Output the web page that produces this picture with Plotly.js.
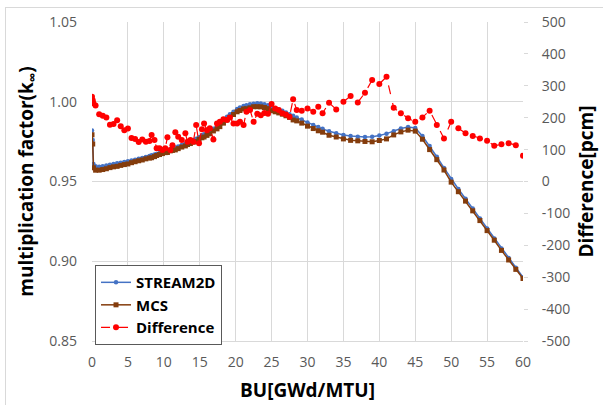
<!DOCTYPE html>
<html>
<head>
<meta charset="utf-8">
<script src="https://cdn.plot.ly/plotly-3.0.1.min.js"></script>
<style>
html,body{margin:0;padding:0;background:#fff;}
#wrap{position:relative;width:603px;height:405px;overflow:hidden;}
#chart{width:603px;height:405px;}
#frame{position:absolute;left:5px;top:7px;width:620px;height:420px;border-left:1px solid #d9d9d9;border-top:1px solid #d9d9d9;pointer-events:none;}
</style>
</head>
<body>
<div id="wrap"><div id="chart"></div><div id="frame"></div></div>
<script>
// Burnup [GWd/MTU]
const burnup = [
  0, 0.1, 0.2, 0.5, 1, 1.5, 2, 2.5, 3, 3.5,
  4, 4.5, 5, 5.5, 6, 6.5, 7, 7.5, 8, 8.3,
  8.7, 9, 9.4, 9.8, 10.2, 10.5, 10.9, 11.2, 11.6, 12,
  12.5, 13, 13.3, 13.7, 14.1, 14.5, 14.9, 15.3, 15.6, 16,
  16.4, 16.9, 17.4, 17.8, 18.3, 18.8, 19.2, 19.7, 20.2, 20.6,
  21.1, 21.5, 22, 22.5, 23, 23.5, 24, 24.5, 25, 25.5,
  26, 26.5, 27, 27.5, 28, 28.5, 29.2, 30, 30.8, 31.5,
  32.1, 33, 34, 35, 36, 37, 38, 39, 40, 41,
  42, 43, 44, 45, 46, 47, 48, 49, 50, 51,
  52, 53, 54, 55, 56, 57, 58, 59, 60
];
// STREAM2D k-inf
const stream2d = [
  0.9820, 0.9760, 0.9610, 0.9595, 0.9592, 0.9596, 0.9600, 0.9605, 0.9610, 0.9614,
  0.9618, 0.9622, 0.9627, 0.9632, 0.9637, 0.9642, 0.9648, 0.9654, 0.9660, 0.9664,
  0.9669, 0.9673, 0.9679, 0.9685, 0.9691, 0.9696, 0.9702, 0.9706, 0.9713, 0.9720,
  0.9729, 0.9738, 0.9744, 0.9751, 0.9759, 0.9768, 0.9777, 0.9790, 0.9797, 0.9805,
  0.9816, 0.9830, 0.9848, 0.9863, 0.9885, 0.9906, 0.9922, 0.9938, 0.9955, 0.9964,
  0.9973, 0.9978, 0.9984, 0.9988, 0.9990, 0.9989, 0.9985, 0.9978, 0.9968, 0.9960,
  0.9952, 0.9943, 0.9933, 0.9922, 0.9912, 0.9902, 0.9888, 0.9870, 0.9854, 0.9841,
  0.9830, 0.9815, 0.9802, 0.9792, 0.9785, 0.9780, 0.9779, 0.9781, 0.9788, 0.9800,
  0.9815, 0.9832, 0.9842, 0.9835, 0.9785, 0.9722, 0.9655, 0.9585, 0.9515, 0.9453,
  0.9392, 0.9330, 0.9268, 0.9205, 0.9143, 0.9080, 0.9020, 0.8960, 0.8900
];
// MCS k-inf
const mcs = [
  0.9793, 0.9735, 0.9586, 0.9571, 0.9571, 0.9575, 0.9580, 0.9587, 0.9592, 0.9595,
  0.9601, 0.9606, 0.9610, 0.9618, 0.9624, 0.9630, 0.9635, 0.9642, 0.9647, 0.9649,
  0.9656, 0.9663, 0.9669, 0.9675, 0.9681, 0.9682, 0.9692, 0.9695, 0.9698, 0.9706,
  0.9716, 0.9723, 0.9732, 0.9738, 0.9747, 0.9750, 0.9765, 0.9774, 0.9779, 0.9789,
  0.9799, 0.9817, 0.9830, 0.9844, 0.9866, 0.9887, 0.9902, 0.9920, 0.9937, 0.9945,
  0.9955, 0.9956, 0.9962, 0.9969, 0.9969, 0.9968, 0.9964, 0.9957, 0.9944, 0.9937,
  0.9930, 0.9922, 0.9912, 0.9902, 0.9886, 0.9880, 0.9866, 0.9847, 0.9832, 0.9818,
  0.9809, 0.9790, 0.9779, 0.9767, 0.9758, 0.9755, 0.9751, 0.9749, 0.9757, 0.9767,
  0.9792, 0.9811, 0.9822, 0.9816, 0.9765, 0.9700, 0.9637, 0.9572, 0.9496, 0.9436,
  0.9377, 0.9316, 0.9255, 0.9192, 0.9132, 0.9068, 0.9008, 0.8949, 0.8892
];
// Difference [pcm]
const diffPcm = [
  266, 255, 245, 238, 211, 206, 201, 178, 180, 192,
  173, 161, 166, 136, 133, 124, 132, 125, 127, 146,
  130, 104, 104, 99, 104, 139, 99, 114, 154, 140,
  130, 151, 125, 130, 125, 177, 120, 164, 182, 161,
  167, 132, 182, 187, 195, 193, 201, 182, 182, 187,
  177, 219, 224, 187, 212, 208, 215, 212, 243, 229,
  224, 214, 210, 203, 258, 224, 222, 229, 219, 234,
  214, 247, 226, 250, 268, 248, 278, 318, 306, 328,
  231, 214, 198, 187, 201, 222, 177, 135, 187, 167,
  151, 143, 135, 128, 112, 117, 120, 114, 81
];
const xTicks = [0,5,10,15,20,25,30,35,40,45,50,55,60];
const yTicks = [0.85,0.90,0.95,1.00,1.05];
const y2Ticks = [-500,-400,-300,-200,-100,0,100,200,300,400,500];

const FONT = 'Open Sans, Noto Sans, sans-serif';
const traces = [
  {x: burnup, y: stream2d, name: 'STREAM2D', type: 'scatter', mode: 'lines+markers',
   line: {color: '#4472C4', width: 1.5}, marker: {symbol: 'circle', size: 4.5, color: '#4472C4'}},
  {x: burnup, y: mcs, name: 'MCS', type: 'scatter', mode: 'lines+markers',
   line: {color: '#843C0C', width: 1.5}, marker: {symbol: 'square', size: 5, color: '#843C0C'}},
  {x: burnup, y: diffPcm, name: 'Difference', type: 'scatter', mode: 'lines+markers', yaxis: 'y2',
   line: {color: '#FF0000', width: 1.2, dash: 'dash'}, marker: {symbol: 'circle', size: 6, color: '#FF0000'}}
];
const layout = {
  width: 603, height: 405,
  margin: {l: 92, r: 80, t: 22, b: 64},
  paper_bgcolor: '#ffffff', plot_bgcolor: '#ffffff',
  font: {family: FONT, color: '#595959'},
  showlegend: true,
  legend: {x: 0.007, y: 0.238, xanchor: 'left', yanchor: 'top',
    bgcolor: '#ffffff', bordercolor: '#595959', borderwidth: 1,
    font: {family: FONT, size: 15, color: '#000000', weight: 'bold'},
    tracegroupgap: 0},
  xaxis: {range: [0, 60], tickvals: xTicks, ticktext: xTicks.map(String),
    showgrid: true, gridcolor: '#d9d9d9', gridwidth: 1, zeroline: false,
    showline: true, linecolor: '#d9d9d9', ticks: '', ticklabelstandoff: 8,
    tickfont: {size: 14, color: '#595959'},
    title: {text: 'BU[GWd/MTU]', standoff: 13, font: {size: 19, color: '#000000', weight: 'bold'}}},
  yaxis: {range: [0.85, 1.05], tickvals: yTicks, ticktext: yTicks.map(v => v.toFixed(2)),
    showgrid: true, gridcolor: '#d9d9d9', gridwidth: 1, zeroline: false, showline: false,
    ticks: '', ticklabelstandoff: 14,
    tickfont: {size: 14, color: '#595959'},
    title: {text: 'multiplication factor(k<sub>∞</sub>)', standoff: 10, font: {size: 19, color: '#000000', weight: 'bold'}}},
  yaxis2: {range: [-500, 500], tickvals: y2Ticks, ticktext: y2Ticks.map(String),
    overlaying: 'y', side: 'right', showgrid: false, zeroline: false, showline: false,
    ticks: 'outside', ticklen: 4, tickcolor: '#d9d9d9', ticklabelstandoff: 11,
    tickfont: {size: 14, color: '#595959'},
    title: {text: 'Difference[pcm]', standoff: 10, font: {size: 19, color: '#000000', weight: 'bold'}}}
};
Plotly.newPlot('chart', traces, layout, {displayModeBar: false, staticPlot: true});
</script>
</body>
</html>
